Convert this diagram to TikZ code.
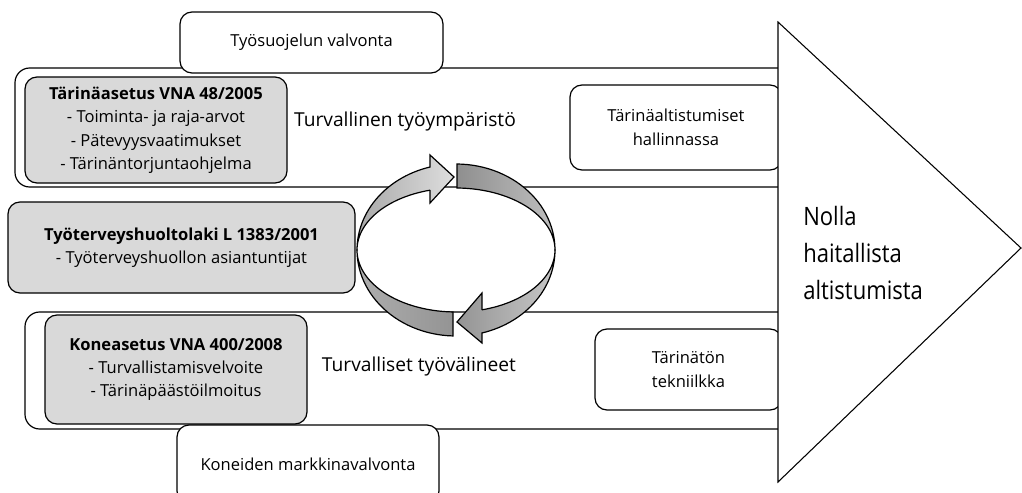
\documentclass[tikz,border=0pt]{standalone}
\usepackage{fontspec}
\setmainfont{Open Sans}
\newfontfamily\goalfamily[FakeStretch=0.87]{Open Sans}
\newcommand\boxfont{\fontsize{12.4}{17.6}\selectfont}
\newcommand\midfont{\fontsize{14.4}{17}\selectfont}
\newcommand\bigfont{\goalfamily\fontsize{19}{27.4}\selectfont}
\begin{document}
\begin{tikzpicture}[x=0.75pt,y=-0.75pt,
  lw/.style={line width=0.9pt},
  wbox/.style={draw, lw, fill=white, rounded corners=9pt, inner sep=0pt, align=center, font=\boxfont},
  gbox/.style={wbox, fill=black!15},
  band/.style={draw, lw, fill=white, rounded corners=11pt, inner sep=0pt},
  ringpart/.style={draw, line width=0.9pt, line join=miter},
  lbl/.style={inner sep=0pt}]
\clip (0,0) rectangle (1022,493);
% bands
\node[band, minimum width=588.75pt, minimum height=89.25pt] (band1) at (407.5,127.5) {};
\node[band, minimum width=581.25pt, minimum height=87.75pt] (band2) at (412.5,370.5) {};
% grey boxes
\node[gbox, minimum width=196.5pt, minimum height=79.5pt] (g1) at (156,130)
  {\textbf{Tärinäasetus VNA 48/2005}\\- Toiminta- ja raja-arvot\\- Pätevyysvaatimukset\\- Tärinäntorjuntaohjelma};
\node[gbox, minimum width=260.25pt, minimum height=68.25pt] (g2) at (181.5,247.5)
  {\textbf{Työterveyshuoltolaki L 1383/2001}\\- Työterveyshuollon asiantuntijat};
\node[gbox, minimum width=196.5pt, minimum height=81.75pt] (g3) at (176,369.5)
  {\textbf{Koneasetus VNA 400/2008}\\- Turvallistamisvelvoite\\- Tärinäpäästöilmoitus};
% white boxes
\node[wbox, minimum width=197.25pt, minimum height=45.75pt] (sup) at (311.5,42.5) {Työsuojelun valvonta};
\node[wbox, minimum width=196.5pt, minimum height=58.5pt] (mv) at (308,464) {Koneiden markkinavalvonta};
\node[wbox, minimum width=159pt, minimum height=63.75pt] (r1) at (676,127.5) {Tärinäaltistumiset\\hallinnassa};
\node[wbox, minimum width=140.25pt, minimum height=60.75pt] (r2) at (688.5,369.5) {Tärinätön\\tekniilkka};
% big arrow head
\draw[line width=0.8pt, fill=white] (778,22) -- (1021,248) -- (778,482) -- cycle;
\node[lbl, font=\bigfont, anchor=west, align=left] (goal) at (803,253) {Nolla\\haitallista\\altistumista};
% labels
\node[lbl, font=\midfont] (env) at (405,122) {Turvallinen työympäristö};
\node[lbl, font=\midfont] (tools) at (419,367) {Turvalliset työvälineet};
% cycle ring
\draw[ringpart, left color=black!34, right color=black!13]
  plot[domain=180:254.8, samples=30] ({456+99*cos(\x)},{250+86*sin(\x)})
  -- (430,155) -- (454,177) -- (430,203) -- (430,{250+62*sin(254.8)})
  -- plot[domain=254.8:180, samples=30] ({456+99*cos(\x)},{250+62*sin(\x)}) -- cycle;
\draw[ringpart, left color=black!44, right color=black!25]
  plot[domain=270.6:360, samples=30] ({456+99*cos(\x)},{250+86*sin(\x)})
  -- plot[domain=360:270.6, samples=30] ({456+99*cos(\x)},{250+62*sin(\x)}) -- cycle;
\draw[ringpart, left color=black!42, right color=black!22]
  plot[domain=0:74.8, samples=30] ({456+99*cos(\x)},{250+86*sin(\x)})
  -- (482,343) -- (457,322) -- (482,293) -- (482,{250+62*sin(74.8)})
  -- plot[domain=74.8:0, samples=30] ({456+99*cos(\x)},{250+62*sin(\x)}) -- cycle;
\draw[ringpart, left color=black!32, right color=black!42]
  plot[domain=91.7:180, samples=30] ({456+99*cos(\x)},{250+86*sin(\x)})
  -- plot[domain=180:91.7, samples=30] ({456+99*cos(\x)},{250+62*sin(\x)}) -- cycle;
\end{tikzpicture}
\end{document}
